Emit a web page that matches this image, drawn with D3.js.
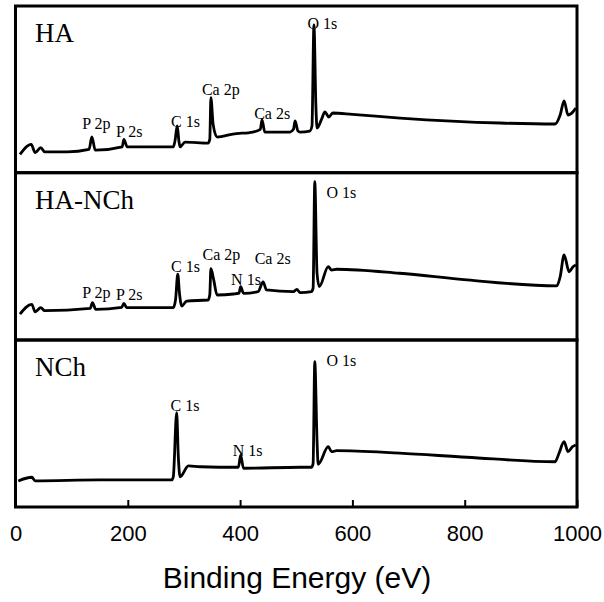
<!DOCTYPE html>
<html>
<head>
<meta charset="utf-8">
<script src="https://cdn.jsdelivr.net/npm/d3@7"></script>
<style>
  body { margin: 0; background: #fff; }
</style>
</head>
<body>
<div id="container"></div>
<script>
let w = 604;
let h = 602;

// DATA (binding energy in eV, intensity in arbitrary units 0-100 per panel)
let panelNames = ["HA", "HA-NCh", "NCh"];

let haEnergy = [8, 28, 35, 45, 52, 92, 131, 136, 142, 190, 193, 199, 281, 284, 288, 291, 293, 302, 343, 346, 348, 352, 359, 387, 423, 436, 439, 444, 489, 495, 498, 503, 507, 524, 528, 531.5, 535, 537, 545, 551, 558, 565, 600, 685, 863, 961, 970, 977, 984, 993, 998];
let haInt = [11, 17, 12, 15, 12.5, 12.5, 14, 21.5, 13.5, 15.5, 20, 15.5, 15.5, 19, 28, 19, 15.5, 18.4, 17.8, 20, 45, 29, 21.4, 23.2, 24.4, 26, 31.6, 24.4, 24.4, 26, 31, 25, 24.4, 25, 28, 88.6, 40, 26.8, 32, 36.4, 33.4, 35.8, 35, 32.8, 29.8, 29.2, 34.6, 43, 34.6, 36.6, 38.8];

let hanchEnergy = [8, 29, 35, 45, 52, 133, 137, 143, 189, 193, 198, 281, 285, 289, 292, 296, 305, 343, 346, 348, 353, 359, 388, 398, 401, 406, 432, 441, 447, 495, 501, 507, 527, 530, 533, 537, 541, 557, 563, 572, 684, 804, 964, 970, 977, 986, 993, 998];
let hanchInt = [15.5, 21.3, 16.9, 19.3, 17.5, 18.9, 22.3, 18.3, 19.5, 21.9, 19.3, 19.3, 24, 39.4, 28, 20.3, 23.3, 23.9, 27, 42.6, 35.9, 26.9, 27.5, 28, 31.9, 27.9, 28.9, 34.8, 29.9, 28.9, 30.3, 28.3, 28.9, 31, 94.6, 40, 31.9, 43.8, 41.8, 42.3, 39.9, 35.9, 32.3, 37.8, 50.8, 40.8, 43.8, 44.8];

let nchEnergy = [5, 29, 35, 150, 278, 281, 287, 290, 293, 308, 329, 397, 401, 406, 507, 527, 530, 533, 537, 539, 557, 563, 572, 684, 804, 961, 968, 977, 984, 992, 998];
let nchInt = [15.6, 17.8, 15.7, 16.2, 16.2, 18.1, 56.5, 30, 18.1, 24.6, 24.1, 23.8, 31.1, 23.2, 23.8, 23.8, 26, 87, 40, 25.6, 36.1, 33.1, 33.7, 32.2, 29.8, 27.1, 32.2, 39.1, 33.1, 36.1, 37.1];

// peak labels: text, energy and intensity of the label anchor
let haLabels = ["P 2p", "P 2s", "C 1s", "Ca 2p", "Ca 2s", "O 1s"];
let haLabelE = [119, 179, 277, 332, 425, 520];
let haLabelI = [26, 21.2, 27.6, 46.4, 32, 86];

let hanchLabels = ["P 2p", "P 2s", "C 1s", "Ca 2p", "N 1s", "Ca 2s", "O 1s"];
let hanchLabelE = [119, 179, 277, 333, 384, 426, 554];
let hanchLabelI = [25.3, 23.9, 40.8, 47.8, 32.9, 45.2, 84.7];

let nchLabels = ["C 1s", "N 1s", "O 1s"];
let nchLabelE = [276, 387, 554];
let nchLabelI = [57.4, 30.5, 84.2];

let xTicks = [0, 200, 400, 600, 800, 1000];

let series = [
  {name: panelNames[0], e: haEnergy, v: haInt, le: haLabelE, li: haLabelI, lt: haLabels},
  {name: panelNames[1], e: hanchEnergy, v: hanchInt, le: hanchLabelE, li: hanchLabelI, lt: hanchLabels},
  {name: panelNames[2], e: nchEnergy, v: nchInt, le: nchLabelE, li: nchLabelI, lt: nchLabels}
];

// LAYOUT
let left = 15.5, right = 577;
let edges = [6, 172.7, 340, 507];

let viz = d3.select("#container").append("svg")
    .attr("width", w)
    .attr("height", h)
    .style("background-color", "white")
;

let xScale = d3.scaleLinear().domain([0, 1000]).range([left, right]);

series.forEach(function(s, k){
  let top = edges[k], bottom = edges[k+1];
  let yScale = d3.scaleLinear().domain([0, 100]).range([bottom, top]);
  let g = viz.append("g").attr("class", "panel");

  let pts = s.e.map(function(d, i){ return [d, s.v[i]]; });
  let lineMaker = d3.line()
    .x(function(d){ return xScale(d[0]); })
    .y(function(d){ return yScale(d[1]); })
    .curve(d3.curveMonotoneX)
  ;
  g.append("path")
    .datum(pts)
    .attr("d", lineMaker)
    .attr("fill", "none")
    .attr("stroke", "black")
    .attr("stroke-width", 2.8)
    .attr("stroke-linejoin", "round")
  ;

  // panel name
  g.append("text")
    .attr("x", 35)
    .attr("y", top + 36)
    .attr("font-family", "'Liberation Serif', 'Times New Roman', serif")
    .attr("font-size", 27)
    .text(s.name)
  ;

  // peak labels
  g.selectAll(".peak").data(s.lt).enter()
    .append("text")
      .attr("class", "peak")
      .attr("x", function(d, i){ return xScale(s.le[i]); })
      .attr("y", function(d, i){ return yScale(s.li[i]); })
      .attr("font-family", "'Liberation Serif', 'Times New Roman', serif")
      .attr("font-size", 16)
      .text(function(d){ return d; })
  ;

  // frame
  g.append("rect")
    .attr("x", left)
    .attr("y", top)
    .attr("width", right - left)
    .attr("height", bottom - top)
    .attr("fill", "none")
    .attr("stroke", "black")
    .attr("stroke-width", 3)
  ;
});

// X AXIS
let xAxis = d3.axisBottom(xScale)
  .tickValues(xTicks)
  .tickFormat(d3.format("d"))
  .tickSizeInner(-7)
  .tickSizeOuter(0)
  .tickPadding(18)
;
let axisG = viz.append("g")
  .attr("transform", "translate(0," + edges[3] + ")")
  .call(xAxis)
;
axisG.select(".domain").remove();
axisG.selectAll(".tick line").attr("stroke", "black").attr("stroke-width", 2);
axisG.selectAll(".tick text")
  .attr("font-family", "'Liberation Sans', Arial, sans-serif")
  .attr("font-size", 22)
  .attr("fill", "black")
;

viz.append("text")
  .attr("x", 297)
  .attr("y", 588)
  .attr("text-anchor", "middle")
  .attr("font-family", "'Liberation Sans', Arial, sans-serif")
  .attr("font-size", 30)
  .text("Binding Energy (eV)")
;
</script>
</body>
</html>
